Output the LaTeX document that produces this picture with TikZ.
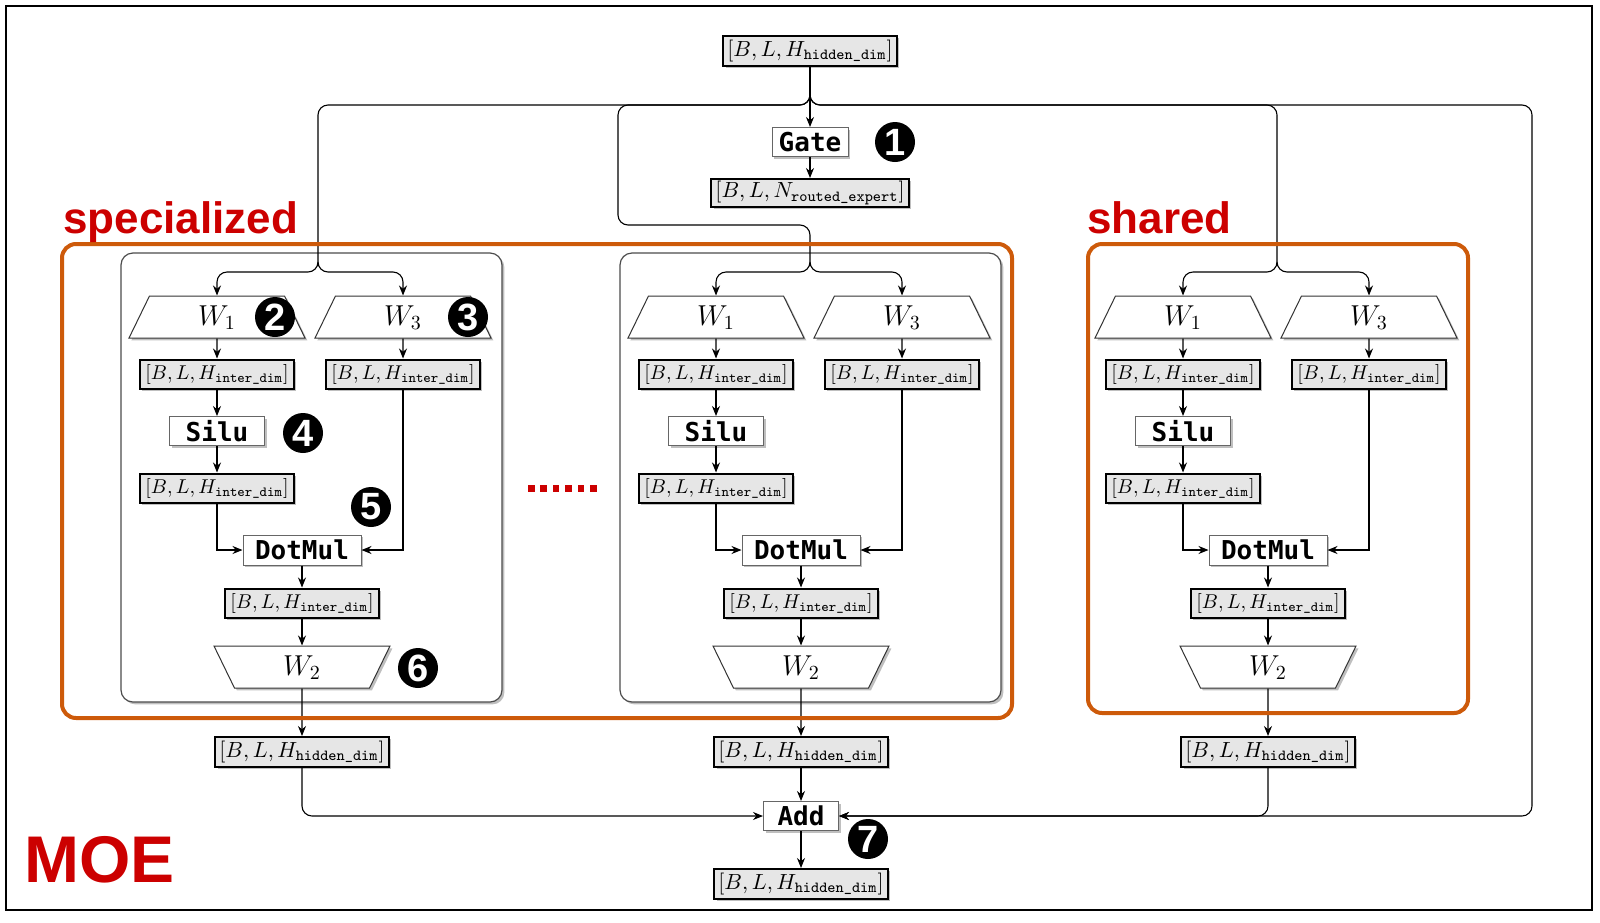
\documentclass[tikz,border=0pt]{standalone}
\usepackage{amsmath}
\usepackage{fontspec}
\newfontfamily\opfont{DejaVu Sans Mono}
\newfontfamily\labfont{Liberation Sans}
\usetikzlibrary{arrows.meta,shapes.geometric,shadows,calc}
\definecolor{tgray}{RGB}{230,230,230}
\definecolor{orng}{RGB}{205,90,10}
\definecolor{redlab}{RGB}{204,0,0}
\newcommand\tInter{$[B,L,H_{\texttt{inter\_dim}}]$}
\newcommand\tHid{$[B,L,H_{\texttt{hidden\_dim}}]$}
\begin{document}
\begin{tikzpicture}[x=0.5pt,y=-0.5pt,
  shadowed/.style={drop shadow={shadow xshift=1.2pt,shadow yshift=-1.2pt,opacity=0.25,fill=black}},
  tensor/.style={draw=black,line width=1pt,fill=tgray,shadowed,inner xsep=2pt,inner ysep=0pt,minimum height=14.5pt,font=\fontsize{10}{12}\selectfont},
  hid/.style={tensor,minimum width=86pt,minimum height=15pt,font=\fontsize{11}{13}\selectfont},
  inter/.style={tensor,minimum width=77pt},
  op/.style={draw=black!60,line width=0.5pt,fill=white,shadowed,inner sep=0pt,minimum height=14.5pt,font=\opfont\bfseries\fontsize{13}{15}\selectfont},
  trap/.style={trapezium,trapezium left angle=64,trapezium right angle=64,trapezium stretches body,draw=black!80,line width=0.5pt,fill=white,shadowed,minimum width=88pt,text height=10pt,text depth=2pt,inner ysep=4.5pt,inner xsep=0pt,font=\fontsize{14}{16}\selectfont},
  trapdown/.style={trap,shape border rotate=180},
  num/.style={circle,fill=black,text=white,inner sep=0pt,minimum size=20pt,font=\labfont\bfseries\fontsize{19}{19}\selectfont},
  conn/.style={draw,line width=0.55pt,-{Stealth[length=5pt,width=4pt]}},
  wire/.style={draw,line width=0.55pt},
  rc/.style={rounded corners=5pt},
  expbox/.style={draw=black!70,line width=0.6pt,rounded corners=6pt,fill=white,shadowed},
  obox/.style={draw=orng,line width=2pt,rounded corners=7pt},
  lab/.style={text=redlab,font=\labfont\bfseries\fontsize{22}{24}\selectfont,inner sep=0pt,anchor=base west}
]
\useasboundingbox (0,0) rectangle (1600,922);
\draw[line width=1.3pt] (6,6) rectangle (1592,910);

% expert containers
\draw[expbox] (121,253) rectangle (502,702);
\draw[expbox] (620,253) rectangle (1001,702);

% top nodes
\node[hid] (in) at (810,51) {\tHid};
\node[op,minimum width=38pt] (gate) at (810,142) {Gate};
\node[tensor,minimum width=93pt,minimum height=14pt,font=\fontsize{11}{13}\selectfont] (route) at (810,193) {$[B,L,N_{\texttt{routed\_expert}}]$};
\node[op,minimum width=37.5pt] (add) at (801,816) {Add};
\node[hid] (out) at (801,884) {\tHid};

\coordinate (j) at (810,105);
\coordinate (mloop) at (618,225);
\coordinate (fr) at (1532,816);

\foreach \p/\dx/\bx in {a/0/318, b/499/810, c/966/1277}{
  \node[trap] (\p w1) at (217+\dx,317) {$W_1$};
  \node[trap] (\p w3) at (403+\dx,317) {$W_3$};
  \node[inter] (\p i1) at (217+\dx,374) {\tInter};
  \node[inter] (\p i3) at (403+\dx,374) {\tInter};
  \node[op,minimum width=47.5pt] (\p silu) at (217+\dx,431) {Silu};
  \node[inter] (\p i2) at (217+\dx,488) {\tInter};
  \node[op,minimum width=59pt,minimum height=15pt] (\p dm) at (302+\dx,550) {DotMul};
  \node[inter] (\p i4) at (302+\dx,603) {\tInter};
  \node[trapdown] (\p w2) at (302+\dx,667) {$W_2$};
  \node[hid] (\p h) at (302+\dx,752) {\tHid};
  \coordinate (\p brt) at (\bx,262);
  \coordinate (\p br) at (\bx,272);
  \draw[conn,rc] (\p brt) -- (\p br) -| (\p w1.north);
  \draw[conn,rc] (\p brt) -- (\p br) -| (\p w3.north);
  \draw[conn] (\p w1) -- (\p i1);
  \draw[conn] (\p w3) -- (\p i3);
  \draw[conn] (\p i1) -- (\p silu);
  \draw[conn] (\p silu) -- (\p i2);
  \draw[conn] (\p i2) |- (\p dm);
  \draw[conn] (\p i3) |- (\p dm);
  \draw[conn] (\p dm) -- (\p i4);
  \draw[conn] (\p i4) -- (\p w2);
  \draw[conn] (\p w2) -- (\p h);
}

% routing from input
\draw[conn] (in) -- (gate);
\draw[conn] (gate) -- (route);
\draw[wire,rc] (in.south) -- (j) -| (abrt);
\draw[wire,rc] (in.south) -- (j) -| (mloop) -| (bbrt);
\draw[wire,rc] (in.south) -- (j) -| (cbrt);
\draw[conn,rc] (in.south) -- (j) -| (fr) -- (add.east);

% to Add
\draw[conn,rc] (ah) |- (add);
\draw[conn] (bh) -- (add);
\draw[conn,rc] (ch) |- (add);
\draw[conn] (add) -- (out);

% orange groups
\draw[obox] (62,244) rectangle (1012,718);
\draw[obox] (1088,244) rectangle (1468,713);

% ellipsis
\foreach \i in {0,...,5}{
  \fill[redlab] (528+12.4*\i,485) rectangle ++(6.5,6.5);
}

% labels
\node[lab] (spec) at (63,233) {specialized};
\node[lab] (shr) at (1087,233) {shared};
\node[lab,font=\labfont\bfseries\fontsize{33}{36}\selectfont] (moe) at (24,882) {MOE};

% step numbers
\node[num] (n1) at (895,142) {1};
\node[num] (n2) at (275,317) {2};
\node[num] (n3) at (468,317) {3};
\node[num] (n4) at (303,433) {4};
\node[num] (n5) at (371,507) {5};
\node[num] (n6) at (418,668) {6};
\node[num] (n7) at (868,839) {7};
\end{tikzpicture}
\end{document}
